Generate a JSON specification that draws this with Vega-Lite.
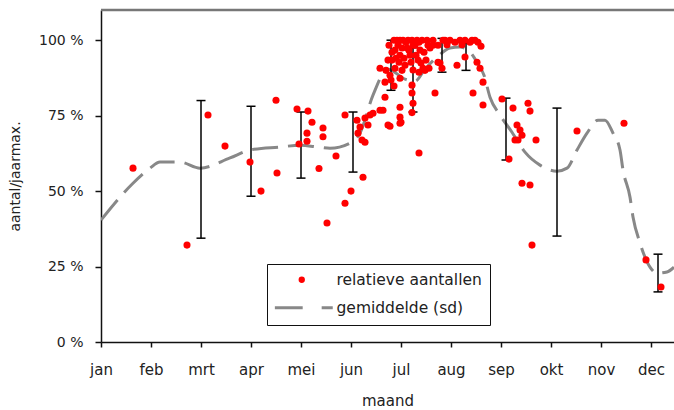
{
  "$schema": "https://vega.github.io/schema/vega-lite/v6.json",
  "width": 573,
  "height": 332,
  "autosize": {"type": "none"},
  "padding": {"left": 101, "top": 10, "right": 0, "bottom": 68},
  "config": {
    "view": {"stroke": null},
    "font": "DejaVu Sans",
    "axis": {"labelFont": "DejaVu Sans", "titleFont": "DejaVu Sans", "labelColor": "#222", "titleColor": "#222", "titleFontWeight": "normal", "domainColor": "#111", "tickColor": "#111", "grid": false}
  },
  "datasets": {
    "pts": [
      {"m": 0.64, "v": 57.6, "s": "relatieve aantallen"},
      {"m": 1.72, "v": 32.1, "s": "relatieve aantallen"},
      {"m": 2.14, "v": 75.2, "s": "relatieve aantallen"},
      {"m": 2.48, "v": 64.9, "s": "relatieve aantallen"},
      {"m": 2.98, "v": 59.6, "s": "relatieve aantallen"},
      {"m": 3.2, "v": 50, "s": "relatieve aantallen"},
      {"m": 3.5, "v": 80.1, "s": "relatieve aantallen"},
      {"m": 3.52, "v": 56, "s": "relatieve aantallen"},
      {"m": 3.92, "v": 77.2, "s": "relatieve aantallen"},
      {"m": 3.96, "v": 65.6, "s": "relatieve aantallen"},
      {"m": 4.14, "v": 76.5, "s": "relatieve aantallen"},
      {"m": 4.22, "v": 72.8, "s": "relatieve aantallen"},
      {"m": 4.12, "v": 69.2, "s": "relatieve aantallen"},
      {"m": 4.12, "v": 66.5, "s": "relatieve aantallen"},
      {"m": 4.44, "v": 70.9, "s": "relatieve aantallen"},
      {"m": 4.44, "v": 68, "s": "relatieve aantallen"},
      {"m": 4.36, "v": 57.5, "s": "relatieve aantallen"},
      {"m": 4.7, "v": 61.6, "s": "relatieve aantallen"},
      {"m": 4.52, "v": 39.4, "s": "relatieve aantallen"},
      {"m": 4.88, "v": 46, "s": "relatieve aantallen"},
      {"m": 5.0, "v": 50, "s": "relatieve aantallen"},
      {"m": 5.24, "v": 54.6, "s": "relatieve aantallen"},
      {"m": 4.88, "v": 75.2, "s": "relatieve aantallen"},
      {"m": 5.12, "v": 73.5, "s": "relatieve aantallen"},
      {"m": 5.18, "v": 71.2, "s": "relatieve aantallen"},
      {"m": 5.28, "v": 74.2, "s": "relatieve aantallen"},
      {"m": 5.38, "v": 75.2, "s": "relatieve aantallen"},
      {"m": 5.44, "v": 75.8, "s": "relatieve aantallen"},
      {"m": 5.58, "v": 76.8, "s": "relatieve aantallen"},
      {"m": 5.64, "v": 76.8, "s": "relatieve aantallen"},
      {"m": 5.14, "v": 69.2, "s": "relatieve aantallen"},
      {"m": 5.22, "v": 66.9, "s": "relatieve aantallen"},
      {"m": 5.28, "v": 66.2, "s": "relatieve aantallen"},
      {"m": 5.34, "v": 71.9, "s": "relatieve aantallen"},
      {"m": 5.78, "v": 71.5, "s": "relatieve aantallen"},
      {"m": 5.98, "v": 77.8, "s": "relatieve aantallen"},
      {"m": 5.98, "v": 74.5, "s": "relatieve aantallen"},
      {"m": 5.98, "v": 72.5, "s": "relatieve aantallen"},
      {"m": 6.36, "v": 62.6, "s": "relatieve aantallen"},
      {"m": 5.58, "v": 90.7, "s": "relatieve aantallen"},
      {"m": 5.68, "v": 86.1, "s": "relatieve aantallen"},
      {"m": 5.68, "v": 81.1, "s": "relatieve aantallen"},
      {"m": 5.74, "v": 71.9, "s": "relatieve aantallen"},
      {"m": 6.0, "v": 72.8, "s": "relatieve aantallen"},
      {"m": 6.22, "v": 85.1, "s": "relatieve aantallen"},
      {"m": 6.22, "v": 82.5, "s": "relatieve aantallen"},
      {"m": 6.24, "v": 79.1, "s": "relatieve aantallen"},
      {"m": 6.22, "v": 76, "s": "relatieve aantallen"},
      {"m": 5.78, "v": 88.4, "s": "relatieve aantallen"},
      {"m": 5.82, "v": 93.4, "s": "relatieve aantallen"},
      {"m": 5.88, "v": 96.7, "s": "relatieve aantallen"},
      {"m": 5.88, "v": 90.7, "s": "relatieve aantallen"},
      {"m": 5.94, "v": 98.3, "s": "relatieve aantallen"},
      {"m": 5.98, "v": 95, "s": "relatieve aantallen"},
      {"m": 5.98, "v": 87.4, "s": "relatieve aantallen"},
      {"m": 6.04, "v": 100, "s": "relatieve aantallen"},
      {"m": 6.08, "v": 91.7, "s": "relatieve aantallen"},
      {"m": 6.12, "v": 97.4, "s": "relatieve aantallen"},
      {"m": 6.14, "v": 100, "s": "relatieve aantallen"},
      {"m": 6.18, "v": 95, "s": "relatieve aantallen"},
      {"m": 6.22, "v": 100, "s": "relatieve aantallen"},
      {"m": 6.24, "v": 90.1, "s": "relatieve aantallen"},
      {"m": 6.28, "v": 98.3, "s": "relatieve aantallen"},
      {"m": 6.32, "v": 100, "s": "relatieve aantallen"},
      {"m": 6.34, "v": 93.4, "s": "relatieve aantallen"},
      {"m": 6.38, "v": 96.7, "s": "relatieve aantallen"},
      {"m": 6.42, "v": 100, "s": "relatieve aantallen"},
      {"m": 6.44, "v": 90.7, "s": "relatieve aantallen"},
      {"m": 6.5, "v": 93.4, "s": "relatieve aantallen"},
      {"m": 6.54, "v": 98.3, "s": "relatieve aantallen"},
      {"m": 6.58, "v": 97.4, "s": "relatieve aantallen"},
      {"m": 6.64, "v": 98.3, "s": "relatieve aantallen"},
      {"m": 6.78, "v": 92.4, "s": "relatieve aantallen"},
      {"m": 6.68, "v": 82.5, "s": "relatieve aantallen"},
      {"m": 6.88, "v": 100, "s": "relatieve aantallen"},
      {"m": 6.98, "v": 100, "s": "relatieve aantallen"},
      {"m": 7.08, "v": 99.3, "s": "relatieve aantallen"},
      {"m": 7.18, "v": 100, "s": "relatieve aantallen"},
      {"m": 7.28, "v": 100, "s": "relatieve aantallen"},
      {"m": 7.38, "v": 99.3, "s": "relatieve aantallen"},
      {"m": 7.48, "v": 100, "s": "relatieve aantallen"},
      {"m": 7.54, "v": 99.3, "s": "relatieve aantallen"},
      {"m": 7.12, "v": 91.7, "s": "relatieve aantallen"},
      {"m": 7.28, "v": 94.4, "s": "relatieve aantallen"},
      {"m": 7.52, "v": 92.7, "s": "relatieve aantallen"},
      {"m": 7.58, "v": 90.7, "s": "relatieve aantallen"},
      {"m": 7.64, "v": 86.1, "s": "relatieve aantallen"},
      {"m": 7.44, "v": 82.5, "s": "relatieve aantallen"},
      {"m": 7.64, "v": 78.5, "s": "relatieve aantallen"},
      {"m": 6.82, "v": 90.7, "s": "relatieve aantallen"},
      {"m": 6.74, "v": 92.7, "s": "relatieve aantallen"},
      {"m": 5.76, "v": 98.3, "s": "relatieve aantallen"},
      {"m": 5.82, "v": 96, "s": "relatieve aantallen"},
      {"m": 5.86, "v": 100, "s": "relatieve aantallen"},
      {"m": 5.9, "v": 94, "s": "relatieve aantallen"},
      {"m": 5.96, "v": 92.7, "s": "relatieve aantallen"},
      {"m": 6.02, "v": 97.4, "s": "relatieve aantallen"},
      {"m": 6.02, "v": 90, "s": "relatieve aantallen"},
      {"m": 6.06, "v": 94, "s": "relatieve aantallen"},
      {"m": 6.1, "v": 99.3, "s": "relatieve aantallen"},
      {"m": 6.16, "v": 96.7, "s": "relatieve aantallen"},
      {"m": 6.2, "v": 92.7, "s": "relatieve aantallen"},
      {"m": 6.24, "v": 98.3, "s": "relatieve aantallen"},
      {"m": 6.3, "v": 95, "s": "relatieve aantallen"},
      {"m": 6.36, "v": 99.3, "s": "relatieve aantallen"},
      {"m": 6.4, "v": 92.4, "s": "relatieve aantallen"},
      {"m": 6.46, "v": 96, "s": "relatieve aantallen"},
      {"m": 6.52, "v": 100, "s": "relatieve aantallen"},
      {"m": 6.56, "v": 90.7, "s": "relatieve aantallen"},
      {"m": 5.8, "v": 86.8, "s": "relatieve aantallen"},
      {"m": 5.86, "v": 84.8, "s": "relatieve aantallen"},
      {"m": 5.74, "v": 93.4, "s": "relatieve aantallen"},
      {"m": 5.7, "v": 90, "s": "relatieve aantallen"},
      {"m": 5.92, "v": 100, "s": "relatieve aantallen"},
      {"m": 5.98, "v": 100, "s": "relatieve aantallen"},
      {"m": 6.36, "v": 89.4, "s": "relatieve aantallen"},
      {"m": 6.48, "v": 90, "s": "relatieve aantallen"},
      {"m": 6.64, "v": 100, "s": "relatieve aantallen"},
      {"m": 6.74, "v": 98.3, "s": "relatieve aantallen"},
      {"m": 6.84, "v": 100, "s": "relatieve aantallen"},
      {"m": 6.92, "v": 98.5, "s": "relatieve aantallen"},
      {"m": 7.22, "v": 98.5, "s": "relatieve aantallen"},
      {"m": 7.42, "v": 100, "s": "relatieve aantallen"},
      {"m": 7.6, "v": 98, "s": "relatieve aantallen"},
      {"m": 8.02, "v": 80.5, "s": "relatieve aantallen"},
      {"m": 8.24, "v": 77.5, "s": "relatieve aantallen"},
      {"m": 8.54, "v": 79.1, "s": "relatieve aantallen"},
      {"m": 8.58, "v": 76.5, "s": "relatieve aantallen"},
      {"m": 8.32, "v": 71.9, "s": "relatieve aantallen"},
      {"m": 8.38, "v": 70.2, "s": "relatieve aantallen"},
      {"m": 8.42, "v": 68.5, "s": "relatieve aantallen"},
      {"m": 8.28, "v": 66.9, "s": "relatieve aantallen"},
      {"m": 8.34, "v": 66.9, "s": "relatieve aantallen"},
      {"m": 8.7, "v": 66.9, "s": "relatieve aantallen"},
      {"m": 8.16, "v": 60.6, "s": "relatieve aantallen"},
      {"m": 8.42, "v": 52.6, "s": "relatieve aantallen"},
      {"m": 8.58, "v": 52, "s": "relatieve aantallen"},
      {"m": 8.62, "v": 32.1, "s": "relatieve aantallen"},
      {"m": 9.52, "v": 69.9, "s": "relatieve aantallen"},
      {"m": 10.46, "v": 72.5, "s": "relatieve aantallen"},
      {"m": 10.9, "v": 27.2, "s": "relatieve aantallen"},
      {"m": 11.2, "v": 18.2, "s": "relatieve aantallen"}
    ],
    "mean": [
      {"m": 0, "v": 40.4}, {"m": 0.64, "v": 52.6}, {"m": 0.98, "v": 57.6}, {"m": 1.18, "v": 59.6},
      {"m": 1.58, "v": 59.6}, {"m": 1.98, "v": 57.6}, {"m": 2.58, "v": 61}, {"m": 2.98, "v": 63.6},
      {"m": 3.58, "v": 64.6}, {"m": 3.98, "v": 65.2}, {"m": 4.38, "v": 64.5}, {"m": 4.58, "v": 64.2},
      {"m": 4.98, "v": 65.9}, {"m": 5.18, "v": 69.2}, {"m": 5.44, "v": 81.8}, {"m": 5.74, "v": 90.4},
      {"m": 6.08, "v": 87.1}, {"m": 6.28, "v": 86.4}, {"m": 6.48, "v": 90.4}, {"m": 6.74, "v": 94.7},
      {"m": 6.98, "v": 97.4}, {"m": 7.18, "v": 97.7}, {"m": 7.34, "v": 96.7}, {"m": 7.52, "v": 92.7},
      {"m": 7.66, "v": 88.4}, {"m": 7.78, "v": 81.1}, {"m": 7.98, "v": 75.2}, {"m": 8.22, "v": 69.5},
      {"m": 8.48, "v": 62.9}, {"m": 8.78, "v": 58.6}, {"m": 9.12, "v": 56.6}, {"m": 9.32, "v": 57.6},
      {"m": 9.52, "v": 63.6}, {"m": 9.72, "v": 69.2}, {"m": 9.94, "v": 73.5}, {"m": 10.08, "v": 73.5},
      {"m": 10.24, "v": 69.2}, {"m": 10.38, "v": 63.6}, {"m": 10.44, "v": 57}, {"m": 10.58, "v": 48},
      {"m": 10.64, "v": 41.4}, {"m": 10.78, "v": 32.8}, {"m": 10.98, "v": 24.8}, {"m": 11.12, "v": 22.8},
      {"m": 11.32, "v": 23.2}, {"m": 11.46, "v": 24.8}
    ],
    "sd": [
      {"m": 2.0, "lo": 34.4, "hi": 80},
      {"m": 3.0, "lo": 48.3, "hi": 78.1},
      {"m": 4.0, "lo": 54.3, "hi": 76.2},
      {"m": 5.04, "lo": 56.3, "hi": 76.2},
      {"m": 5.8, "lo": 83.4, "hi": 100},
      {"m": 6.24, "lo": 76.2, "hi": 97.5},
      {"m": 6.82, "lo": 89.4, "hi": 100.6},
      {"m": 7.3, "lo": 90, "hi": 99},
      {"m": 8.1, "lo": 60.3, "hi": 80.8},
      {"m": 9.12, "lo": 35.1, "hi": 77.5},
      {"m": 11.14, "lo": 16.6, "hi": 29.1}
    ],
    "frame": [
      {"m": 0, "m2": 11.46, "top": 110}
    ]
  },
  "encoding": {
    "x": {
      "field": "m", "type": "quantitative",
      "scale": {"domain": [0, 11.46], "nice": false, "zero": false},
      "axis": {
        "title": "maand", "values": [0,1,2,3,4,5,6,7,8,9,10,11],
        "labelExpr": "['jan','feb','mrt','apr','mei','jun','jul','aug','sep','okt','nov','dec'][datum.value]",
        "labelFontSize": 15, "titleFontSize": 15, "tickSize": 5, "labelPadding": 15, "titlePadding": 16,
        "domainWidth": 1.5, "tickWidth": 1.5, "labelFlush": false
      }
    }
  },
  "layer": [
    {
      "data": {"name": "mean"},
      "mark": {"type": "line", "color": "#888888", "strokeWidth": 3, "strokeDash": [26, 10], "interpolate": "monotone", "clip": true},
      "encoding": {
        "y": {
          "field": "v", "type": "quantitative",
          "scale": {"domain": [0, 110], "nice": false},
          "axis": {
            "title": "aantal/jaarmax.", "values": [0, 25, 50, 75, 100],
            "labelExpr": "datum.value + ' %'", "labelFontSize": 14, "titleFontSize": 14,
            "tickSize": 6, "labelPadding": 12, "titlePadding": 16, "domainWidth": 1.5, "tickWidth": 1.5
          }
        }
      }
    },
    {
      "data": {"name": "sd"},
      "mark": {"type": "rule", "color": "#000000", "strokeWidth": 1.5},
      "encoding": {"y": {"field": "lo", "type": "quantitative"}, "y2": {"field": "hi"}}
    },
    {
      "data": {"name": "sd"},
      "mark": {"type": "tick", "orient": "horizontal", "color": "#000000", "size": 9, "thickness": 1.5, "opacity": 1},
      "encoding": {"y": {"field": "lo", "type": "quantitative"}}
    },
    {
      "data": {"name": "sd"},
      "mark": {"type": "tick", "orient": "horizontal", "color": "#000000", "size": 9, "thickness": 1.5, "opacity": 1},
      "encoding": {"y": {"field": "hi", "type": "quantitative"}}
    },
    {
      "data": {"name": "pts"},
      "mark": {"type": "point", "filled": true, "opacity": 1, "size": 50, "strokeWidth": 0},
      "encoding": {
        "y": {"field": "v", "type": "quantitative"},
        "fill": {
          "field": "s", "type": "nominal",
          "scale": {"domain": ["relatieve aantallen", "gemiddelde (sd)"], "range": ["#ff0000", "#888888"]},
          "legend": {
            "title": null, "orient": "none", "legendX": 166, "legendY": 254,
            "strokeColor": "#111", "fillColor": "#ffffff", "padding": 8,
            "labelFont": "DejaVu Sans", "labelFontSize": 15.5, "labelColor": "#222", "labelLimit": 400,
            "symbolSize": 40, "symbolOffset": 19, "labelOffset": 27, "rowPadding": 11, "symbolOpacity": 1, "symbolStrokeWidth": 0
          }
        },
        "shape": {
          "field": "s", "type": "nominal",
          "scale": {"domain": ["relatieve aantallen", "gemiddelde (sd)"], "range": ["circle", "M-8.5,-0.5H0.3V0.5H-8.5Z M6.3,-0.5H9.8V0.5H6.3Z"]}
        }
      }
    },
    {
      "data": {"name": "frame"},
      "mark": {"type": "rule", "color": "#777777", "strokeWidth": 2.5},
      "encoding": {"x2": {"field": "m2"}, "y": {"field": "top", "type": "quantitative"}}
    }
  ]
}
